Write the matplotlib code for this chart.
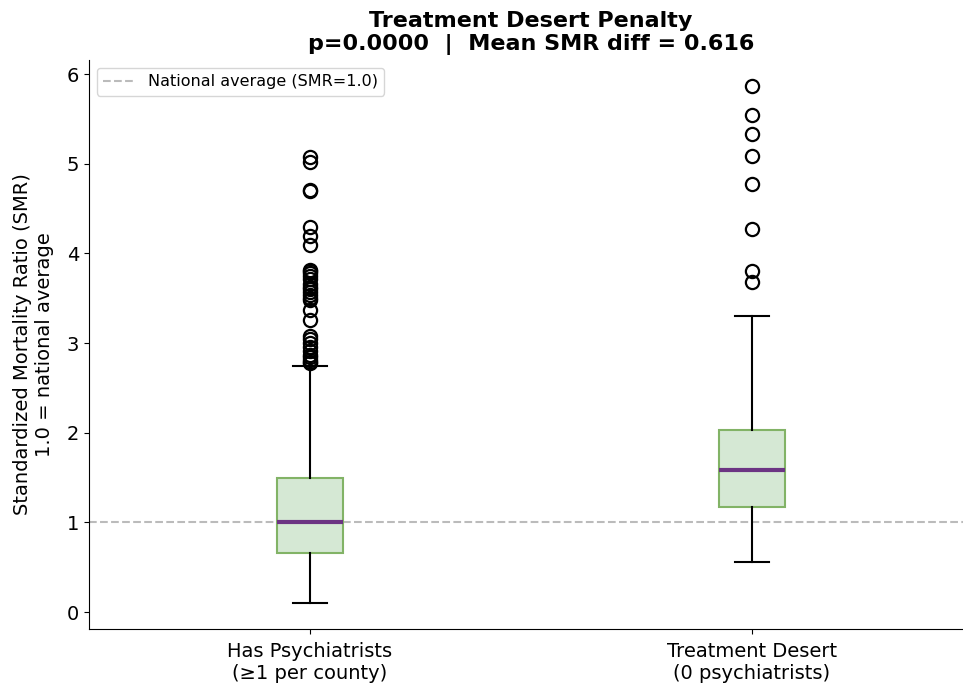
import matplotlib
matplotlib.use("Agg")
import matplotlib.pyplot as plt

categories = ["Has Psychiatrists\n(≥1 per county)", "Treatment Desert\n(0 psychiatrists)"]
whislo = [0.10, 0.56]
q1 = [0.66, 1.17]
med = [1.005, 1.59]
q3 = [1.49, 2.03]
whishi = [2.75, 3.30]
fliers_has = [5.08, 5.02, 4.71, 4.70, 4.29, 4.19, 4.09,
              3.82, 3.80, 3.78, 3.75, 3.72, 3.66, 3.62, 3.60, 3.57, 3.54, 3.50, 3.48,
              3.37, 3.26, 3.08, 3.05, 3.00, 2.96, 2.91, 2.87, 2.84, 2.81, 2.79, 2.78]
fliers_desert = [5.87, 5.54, 5.33, 5.09, 4.77, 4.27, 3.80, 3.68]
fliers = [fliers_has, fliers_desert]
national_avg = 1.0

stats = []
for i in range(2):
    stats.append(dict(whislo=whislo[i], q1=q1[i], med=med[i], q3=q3[i],
                      whishi=whishi[i], fliers=fliers[i], label=categories[i]))

fig = plt.figure(figsize=(9.63, 6.89), dpi=100)
ax = fig.add_axes([0.0924, 0.0871, 0.918, 0.826])

ax.bxp(stats, positions=[1, 2], widths=0.15, patch_artist=True,
       boxprops=dict(facecolor="#d5e8d4", edgecolor="#82b366", linewidth=1.5),
       medianprops=dict(color="#6c3483", linewidth=3),
       whiskerprops=dict(color="black", linewidth=1.5),
       capprops=dict(color="black", linewidth=1.5),
       flierprops=dict(marker="o", markerfacecolor="none", markeredgecolor="black",
                       markersize=9.5, markeredgewidth=1.6))

ax.axhline(national_avg, color="#bbbbbb", linestyle="--", linewidth=1.5,
           label="National average (SMR=1.0)", zorder=0)

ax.set_xlim(0.5, 2.5)
ax.set_ylabel("Standardized Mortality Ratio (SMR)\n1.0 = national average",
              fontsize=14, labelpad=9)
ax.set_title("Treatment Desert Penalty\np=0.0000  |  Mean SMR diff = 0.616",
             fontsize=16, fontweight="bold", pad=7)
ax.tick_params(axis="both", labelsize=14)
ax.tick_params(axis="x", pad=6)
ax.spines["top"].set_visible(False)
ax.spines["right"].set_visible(False)
ax.legend(loc="upper left", fontsize=11.5)

fig.savefig("out.png", dpi=100)
